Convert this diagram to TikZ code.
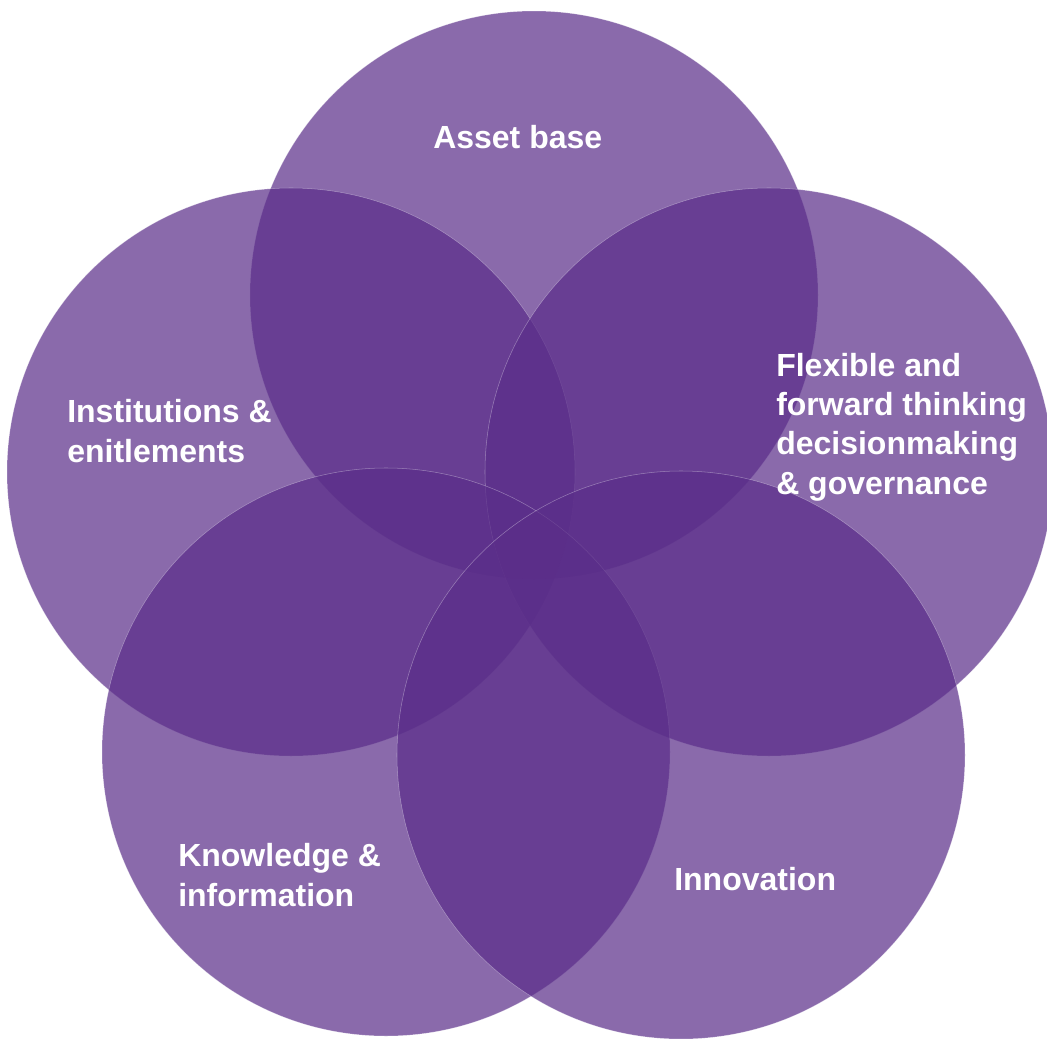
\documentclass[tikz,border=0pt]{standalone}
\usepackage{fontspec}
\setsansfont{Liberation Sans}
\usepackage{tikz}

\definecolor{petalpurple}{RGB}{90,45,137}

\tikzset{
    petal/.style={circle, minimum size=426pt, inner sep=0pt, fill=petalpurple, fill opacity=0.71, draw=white, draw opacity=0.35, line width=0.4pt},
    petallabel/.style={anchor=base west, align=left, inner sep=0pt, text=white, font=\sffamily\bfseries\fontsize{24}{29.5}\selectfont}
}

\begin{document}
\begin{tikzpicture}[x=0.75pt,y=0.75pt,yscale=-1,xscale=1]
    \useasboundingbox (0,0) rectangle (1047,1039);
    
    %Shape: Circles
    \node[petal] (asset) at (534,295) {};
    \node[petal] (institutions) at (291,472) {};
    \node[petal] (flexible) at (769,472) {};
    \node[petal] (knowledge) at (386,752) {};
    \node[petal] (innovation) at (681,755) {};
    
    % Text Node (base = last line)
    \node[petallabel] (assettext) at (433,148) {Asset base};
    % Text Node
    \node[petallabel] (institutionstext) at (67,462) {Institutions \&\\enitlements};
    % Text Node
    \node[petallabel] (flexibletext) at (776,494) {Flexible and\\forward thinking\\decisionmaking\\\& governance};
    % Text Node
    \node[petallabel] (knowledgetext) at (178,906) {Knowledge \&\\information};
    % Text Node
    \node[petallabel] (innovationtext) at (674,890) {Innovation};
    
\end{tikzpicture}
\end{document}
